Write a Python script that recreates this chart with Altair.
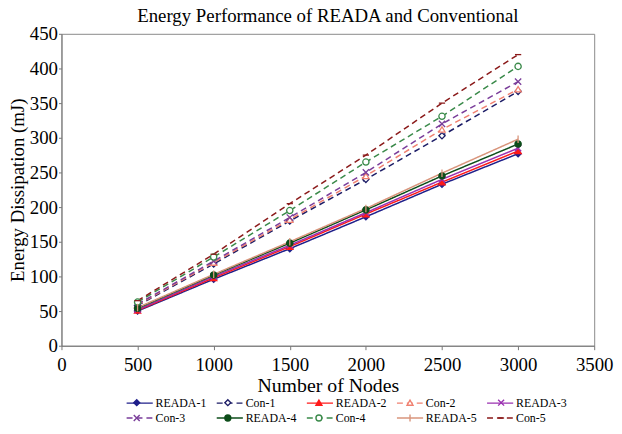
import altair as alt
import pandas as pd

# ---- data ----
nodes = [500, 1000, 1500, 2000, 2500, 3000]
series = ["READA-1", "Con-1", "READA-2", "Con-2", "READA-3",
          "Con-3", "READA-4", "Con-4", "READA-5", "Con-5"]

reada_1 = [50, 96, 140, 186, 233, 277]
con_1 = [58, 118, 180, 240, 303, 367]
reada_2 = [51, 98, 143, 190, 236, 281]
con_2 = [59, 120, 182, 245, 312, 370]
reada_3 = [52, 100, 145, 192, 240, 285]
con_3 = [60, 122, 185, 250, 320, 381]
reada_4 = [54, 102, 148, 196, 245, 291]
con_4 = [63, 128, 195, 265, 331, 403]
reada_5 = [55, 103, 150, 198, 249, 298]
con_5 = [65, 132, 205, 275, 350, 420]

series_values = [reada_1, con_1, reada_2, con_2, reada_3,
                 con_3, reada_4, con_4, reada_5, con_5]

# ---- styles ----
colors = ["#1f1f8a", "#1c1c66", "#ff1a1a", "#f08070", "#9a30b0",
          "#7a3d9a", "#0d4d1a", "#3a8a4a", "#d9957c", "#8b1a1a"]
fills = ["#1f1f8a", "white", "#ff1a1a", "white", "#9a30b0",
         "#7a3d9a", "#0d4d1a", "white", "#d9957c", "#8b1a1a"]
dashes = [[1, 0], [6, 4], [1, 0], [6, 4], [1, 0],
          [6, 4], [1, 0], [6, 4], [1, 0], [6, 4]]
X_PATH = "M-1,-1L1,1M-1,1L1,-1"
PLUS_PATH = "M0,-1.2V1.2"
DASH_PATH = "M-1,0H1"
shapes = ["diamond", "diamond", "triangle-up", "triangle-up", X_PATH,
          X_PATH, "circle", "circle", PLUS_PATH, DASH_PATH]

# marker legend uses its own (space-suffixed) domain so it is not merged with the line legend
marker_domain = [s + " " for s in series]

rows = []
for s, m, vals in zip(series, marker_domain, series_values):
    for n, v in zip(nodes, vals):
        rows.append({"nodes": n, "energy": v, "series": s, "marker": m})
df = pd.DataFrame(rows)

FONT = "Liberation Serif"
LEG_X, LEG_Y = 65, 366

common_legend = dict(title=None, orient="none", legendX=LEG_X, legendY=LEG_Y, columns=5,
                     direction="horizontal", labelFont=FONT, labelFontSize=12,
                     labelColor="black", rowPadding=2, columnPadding=7, padding=0,
                     symbolStrokeWidth=1.4, gridAlign="all")

line_legend = alt.Legend(symbolType="M-2.2,0H2.2", symbolSize=144, symbolOffset=7,
                         labelOffset=9, **common_legend)
# marker legend: symbols only, laid out on the same grid as the line legend
marker_legend = alt.Legend(symbolSize=36, symbolOffset=5, labelOffset=68,
                           labelExpr="''", zindex=1, **common_legend)

x = alt.X("nodes:Q", scale=alt.Scale(domain=[0, 3500], nice=False),
          axis=alt.Axis(values=list(range(0, 3501, 500)), title="Number of Nodes", format="d",
                        labelFlush=False, labelPadding=6, titlePadding=1))
y = alt.Y("energy:Q", scale=alt.Scale(domain=[0, 450], nice=False),
          axis=alt.Axis(values=list(range(0, 451, 50)), title="Energy Dissipation (mJ)", format="d",
                        labelPadding=1, titlePadding=2, tickSize=3, titleFontSize=19))

lines = alt.Chart(df).mark_line(strokeWidth=1.5).encode(
    x=x, y=y,
    color=alt.Color("series:N", scale=alt.Scale(domain=series, range=colors), legend=line_legend),
    strokeDash=alt.StrokeDash("series:N", scale=alt.Scale(domain=series, range=dashes),
                              legend=line_legend),
)

points = alt.Chart(df).mark_point(size=40, strokeWidth=1.3, opacity=1).encode(
    x=x, y=y,
    shape=alt.Shape("marker:N", scale=alt.Scale(domain=marker_domain, range=shapes),
                    legend=marker_legend),
    stroke=alt.Stroke("marker:N", scale=alt.Scale(domain=marker_domain, range=colors),
                      legend=marker_legend),
    fill=alt.Fill("marker:N", scale=alt.Scale(domain=marker_domain, range=fills),
                  legend=marker_legend),
)

chart = (
    (lines + points)
    .properties(
        width=538, height=315,
        title=alt.TitleParams("Energy Performance of READA and Conventional", font=FONT,
                              fontSize=19, fontWeight="normal", color="black",
                              anchor="middle", offset=-1),
        autosize=alt.AutoSizeParams(type="none"),
        padding={"left": 54, "top": 24, "right": 20, "bottom": 79},
    )
    .configure_view(stroke="#8a8a8a", strokeWidth=1)
    .configure_axis(labelFont=FONT, titleFont=FONT, labelFontSize=19, titleFontSize=20,
                    titleFontWeight="normal", labelColor="black", titleColor="black",
                    domainColor="#777777", tickColor="#777777", grid=False, tickSize=4)
)

chart.save("out.html", embed_options={"renderer": "svg", "actions": False})
